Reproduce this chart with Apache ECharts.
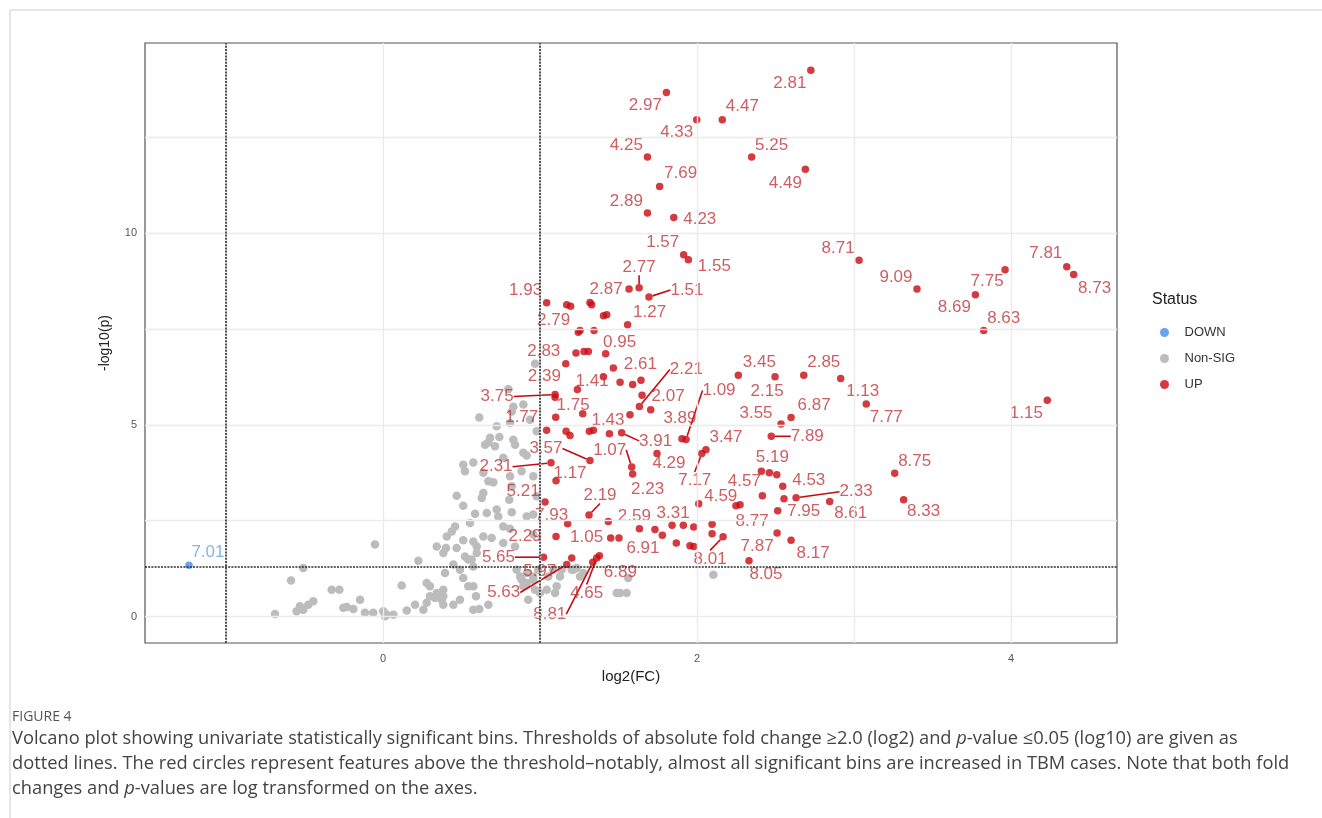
<!DOCTYPE html>
<html><head><meta charset="utf-8">
<script src="https://cdn.jsdelivr.net/npm/echarts@6/dist/echarts.min.js"></script>
<style>html,body{margin:0;padding:0;background:#fff}#c{width:1322px;height:818px}</style>
</head><body><div id="c"></div>
<script>
// ---------- data ----------
const xTicks = [0, 2, 4];
const yTicks = [0, 5, 10];
const xGridValues = [-1, 0, 1, 2, 3, 4];
const yGridValues = [0, 2.5, 5, 7.5, 10, 12.5];
const fcThresholds = [-1, 1];
const pThreshold = 1.301;

// UP (labeled)
const upLabels = ['2.81','2.97','4.47','4.33','4.25','5.25','7.69','4.49','2.89','4.23','1.57','1.55','2.77','2.87','1.51','1.27','8.71','9.09','7.75','8.69','8.63','7.81','8.73','1.15','3.45','2.15','2.85','1.13','7.77','6.87','3.55','7.89','0.95','2.61','2.21','2.07','3.89','1.09','3.91','3.47','7.17','4.29','1.07','2.23','5.19','4.57','4.53','2.33','7.95','8.61','8.75','8.33','4.59','8.77','7.87','8.17','8.05','8.01','3.31','2.59','6.91','1.05','6.89','4.65','8.81','5.97','5.63','5.65','2.29','7.93','2.19','5.21','1.17','2.31','3.57','1.93','2.79','2.83','2.39','1.41','3.75','1.75','1.77','1.43'];
const upX = [2.725,1.805,2.161,1.998,1.684,2.348,1.762,2.690,1.684,1.852,1.915,1.945,1.631,1.567,1.694,1.558,3.032,3.401,3.962,3.773,3.826,4.355,4.399,4.231,2.263,2.497,2.680,2.915,3.078,2.599,2.535,2.473,1.418,1.467,1.633,1.650,1.904,1.930,1.520,2.057,2.030,1.745,1.584,1.590,2.461,2.410,2.546,2.631,2.514,2.845,3.259,3.316,2.011,2.274,2.510,2.599,2.331,2.166,1.841,1.435,1.503,1.450,1.378,1.361,1.336,1.202,1.170,1.022,1.102,1.176,1.312,1.032,1.102,1.070,1.318,1.042,1.195,1.164,1.238,1.510,1.096,1.096,1.100,1.573];
const upY = [14.24,13.66,12.95,12.95,11.98,11.98,11.21,11.66,10.52,10.40,9.43,9.30,8.57,8.54,8.33,7.61,9.29,8.54,9.04,8.39,7.46,9.12,8.92,5.64,6.29,6.25,6.29,6.21,5.54,5.19,5.02,4.70,6.85,6.48,5.48,5.77,4.64,4.62,4.79,4.35,4.25,4.25,3.90,3.72,3.75,3.79,3.40,3.10,2.76,3.00,3.74,3.05,2.94,2.92,2.18,1.99,1.46,2.08,2.38,2.48,2.05,2.05,1.59,1.53,1.42,1.53,1.36,1.55,2.09,2.42,2.65,2.99,3.54,4.01,4.07,8.18,8.09,6.59,5.92,6.11,5.79,5.72,5.20,5.26];
// UP (unlabeled)
const upPlainX = [1.170,1.318,1.329,1.404,1.425,1.244,1.255,1.344,1.229,1.280,1.308,1.404,1.590,1.643,1.272,1.042,1.166,1.191,1.314,1.340,1.442,1.705,2.416,2.554,2.508,2.248,1.633,1.732,1.779,1.868,1.955,1.979,1.913,1.979,2.096,2.096];
const upPlainY = [8.13,8.19,8.13,7.84,7.87,7.41,7.46,7.46,6.87,6.91,6.91,6.25,6.05,6.16,5.29,4.86,4.83,4.72,4.83,4.86,4.77,5.39,3.15,3.07,3.70,2.89,2.29,2.27,2.12,1.92,1.85,1.83,2.38,2.34,2.41,2.16];
// DOWN
const downX = [-1.236];
const downY = [1.34];
const downLabels = ['7.01'];
// Non-SIG
const nsX = [0.968,0.798,0.894,0.830,0.613,0.724,0.809,0.979,0.936,0.682,0.741,0.650,0.713,0.671,0.830,0.841,0.766,0.894,0.915,0.511,0.575,0.522,0.639,0.671,0.703,0.809,0.883,0.957,0.820,0.804,0.469,0.629,0.639,0.979,0.511,0.586,0.661,0.724,0.734,0.820,0.915,0.957,0.438,0.459,0.766,0.809,0.554,0.639,0.692,0.575,0.511,0.342,0.401,0.469,0.766,0.841,0.957,-0.051,0.225,0.490,0.543,0.565,0.575,0.597,0.873,0.915,0.957,0.894,0.989,1.053,1.138,1.212,-0.508,-0.586,-0.327,-0.278,-0.146,-0.253,-0.231,-0.189,-0.444,-0.476,-0.529,-0.550,-0.508,-0.688,-0.115,-0.062,0.002,0.024,0.066,0.013,0.119,0.151,0.204,0.257,0.278,0.299,0.331,0.342,0.278,0.299,0.384,0.384,0.448,0.374,0.543,0.592,0.613,0.671,0.925,0.968,1.043,1.096,1.234,1.276,1.489,1.552,1.562,2.104,0.820,0.851,0.915,0.957,0.883,1.085,1.127,1.202,1.255,1.510,0.575,0.511,0.395,0.448,0.384,0.522,0.597,0.406,0.384,0.490,0.575,1.000,1.106];
const nsY = [6.59,5.93,5.53,5.47,5.19,4.96,5.05,4.83,5.13,4.66,4.68,4.48,4.44,4.54,4.61,4.48,4.14,4.27,4.20,3.96,4.02,3.79,3.75,3.53,3.50,3.66,3.79,3.66,3.40,3.05,3.15,3.09,3.22,3.14,2.89,2.68,2.70,2.79,2.61,2.72,2.61,2.66,2.22,2.35,2.35,2.29,2.44,2.09,2.05,1.96,1.99,1.83,1.79,1.79,1.92,1.83,2.14,1.88,1.46,1.22,1.49,1.49,1.31,1.66,1.05,0.88,0.96,0.79,1.22,1.05,1.22,1.22,1.27,0.94,0.70,0.70,0.44,0.23,0.25,0.20,0.40,0.31,0.27,0.14,0.18,0.07,0.10,0.10,0.14,0.05,0.05,0.01,0.81,0.16,0.31,0.18,0.36,0.53,0.49,0.62,0.88,0.79,0.70,0.31,0.31,0.44,0.79,0.53,0.20,0.31,0.44,0.70,0.70,0.62,1.27,1.14,0.62,0.62,1.01,1.09,5.35,1.22,1.14,1.05,0.96,1.22,1.05,1.22,1.05,0.62,0.79,1.01,1.14,1.36,1.66,1.57,1.83,2.09,0.53,0.44,0.18,0.62,0.79];

// ---------- layout (label nudges in px, leader flags) ----------
const upLabelNudge = [[-21,13],[-21,13],[20,-13],[-20,13],[-21,-12],[20,-12],[21,-13],[-20,14],[-21,-12],[26,2],[-21,-13],[26,7],[0,-21],[-23,0],[38,-7],[22,-12],[-21,-12],[-21,-12],[-18,12],[-21,13],[20,-12],[-21,-13],[21,14],[-21,13],[21,-13],[-8,14],[20,-13],[22,13],[20,13],[23,-12],[-25,-11],[36,0],[14,-12],[27,-4],[47,-37],[26,1],[-2,-20],[33,-49],[34,8],[20,-12],[-7,27],[12,10],[-22,-17],[15,15],[3,-15],[-17,10],[26,-6],[60,-6],[26,1],[21,12],[20,-12],[20,12],[22,-8],[12,17],[-20,13],[22,13],[17,14],[-13,22],[1,-12],[26,-5],[24,10],[-24,-1],[21,17],[-10,35],[-43,52],[-32,13],[-63,28],[-45,0],[-31,0],[-16,-9],[11,-20],[-22,-11],[14,-8],[-55,4],[-44,-12],[-21,-12],[-17,14],[-22,-12],[-33,-13],[-28,-1],[-58,2],[18,8],[-34,0],[-22,5]];
const upLeader = ['2.77','1.51','7.89','2.21','1.09','3.91','7.17','1.07','2.33','8.01','4.65','8.81','5.63','5.65','2.19','2.31','3.57','3.75'];
const downLabelNudge = [[19,-13]];

const RED = '#c80a10', RED_TXT = '#c0363b', GREY = '#bcbcbc', BLUE = '#3d8ee8';
const FONT = "'Liberation Sans', Arial, sans-serif";
const CAP_FONT = "'Open Sans', sans-serif";

const chart = echarts.init(document.getElementById('c'), null, {renderer: 'canvas'});

const upData = upX.map((x, i) => ({
  value: [x, upY[i]], name: upLabels[i],
  labelLine: {show: upLeader.indexOf(upLabels[i]) >= 0}
}));
const upPlainData = upPlainX.map((x, i) => [x, upPlainY[i]]);
const nsData = nsX.map((x, i) => [x, nsY[i]]);
const downData = downX.map((x, i) => ({value: [x, downY[i]], name: downLabels[i]}));

const italicRich = {i: {fontStyle: 'italic', fontSize: 18.3, fontFamily: CAP_FONT, fill: '#444'}};

const option = {
  animation: false,
  backgroundColor: '#fff',
  grid: {left: 145, right: 205, top: 43, bottom: 175, show: true, borderColor: '#555', borderWidth: 1.2, backgroundColor: '#fff'},
  xAxis: {
    type: 'value', min: -1.516, max: 4.675,
    name: 'log2(FC)', nameLocation: 'middle', nameGap: 26,
    nameTextStyle: {fontFamily: FONT, fontSize: 15, color: '#222'},
    axisLine: {show: false}, splitLine: {show: false},
    axisTick: {show: true, customValues: xTicks, length: 4, lineStyle: {color: '#444'}},
    axisLabel: {customValues: xTicks, fontFamily: FONT, fontSize: 11, color: '#555', margin: 10}
  },
  yAxis: {
    type: 'value', min: -0.686, max: 14.95,
    name: '-log10(p)', nameLocation: 'middle', nameGap: 33,
    nameTextStyle: {fontFamily: FONT, fontSize: 14, color: '#222'},
    axisLine: {show: false}, splitLine: {show: false},
    axisTick: {show: true, customValues: yTicks, length: 4, lineStyle: {color: '#444'}},
    axisLabel: {customValues: yTicks, fontFamily: FONT, fontSize: 11, color: '#555', margin: 8}
  },
  legend: {
    data: ['DOWN', 'Non-SIG', 'UP'], orient: 'vertical', left: 1155, top: 321,
    itemWidth: 30, itemHeight: 9, itemGap: 13, icon: 'circle',
    textStyle: {fontFamily: FONT, fontSize: 13, color: '#333'}
  },
  series: [
    {
      name: 'gridlines', type: 'scatter', data: [], silent: true, z: 0,
      markLine: {
        silent: true, symbol: 'none', animation: false,
        label: {show: false},
        lineStyle: {color: '#ebebeb', width: 1.4, type: 'solid'},
        data: xGridValues.map(v => ({xAxis: v})).concat(yGridValues.map(v => ({yAxis: v})))
      }
    },
    {
      name: 'thresholds', type: 'scatter', data: [], silent: true, z: 1,
      markLine: {
        silent: true, symbol: 'none', animation: false,
        label: {show: false},
        lineStyle: {color: '#2a2a2a', width: 1.6, type: [2, 1.2]},
        data: fcThresholds.map(v => ({xAxis: v})).concat([{yAxis: pThreshold}])
      }
    },
    {
      name: 'Non-SIG', type: 'scatter', data: nsData, symbolSize: 8.5, z: 2,
      itemStyle: {color: GREY, opacity: 1}
    },
    {
      name: 'DOWN', type: 'scatter', data: downData, symbolSize: 7.5, z: 3,
      itemStyle: {color: BLUE},
      label: {show: true, position: 'inside', formatter: p => p.name, color: '#6b9fd9', fontFamily: FONT, fontSize: 17},
      labelLayout: p => ({dx: downLabelNudge[p.dataIndex][0], dy: downLabelNudge[p.dataIndex][1]})
    },
    {
      name: 'UP', type: 'scatter', data: upPlainData, symbolSize: 7.5, z: 3,
      itemStyle: {color: RED}
    },
    {
      name: 'UP', type: 'scatter', data: upData, symbolSize: 7.5, z: 4,
      itemStyle: {color: RED},
      label: {show: true, position: 'inside', formatter: p => p.name, color: RED_TXT, fontFamily: FONT, fontSize: 17},
      labelLine: {show: false, length2: 0, lineStyle: {color: RED, width: 1.6}},
      labelLayout: p => ({dx: upLabelNudge[p.dataIndex][0], dy: upLabelNudge[p.dataIndex][1]})
    }
  ],
  graphic: [
    {type: 'line', silent: true, shape: {x1: 10, y1: 10, x2: 1322, y2: 10}, style: {stroke: '#cfcfcf', lineWidth: 1}},
    {type: 'line', silent: true, shape: {x1: 10, y1: 10, x2: 10, y2: 818}, style: {stroke: '#cfcfcf', lineWidth: 1}},
    {type: 'text', x: 1152, y: 300, style: {text: 'Status', font: "16px 'Liberation Sans', Arial, sans-serif", fill: '#222', verticalAlign: 'middle'}},
    {type: 'text', x: 12, y: 717, style: {text: 'FIGURE 4', font: "14px 'Open Sans', sans-serif", fill: '#555', verticalAlign: 'middle'}},
    {type: 'text', x: 12, y: 739, style: {
      text: 'Volcano plot showing univariate statistically significant bins. Thresholds of absolute fold change ≥2.0 (log2) and {i|p}-value ≤0.05 (log10) are given as',
      font: "18.3px 'Open Sans', sans-serif", fill: '#444', verticalAlign: 'middle', rich: italicRich}},
    {type: 'text', x: 12, y: 764, style: {
      text: 'dotted lines. The red circles represent features above the threshold–notably, almost all significant bins are increased in TBM cases. Note that both fold',
      font: "18.3px 'Open Sans', sans-serif", fill: '#444', verticalAlign: 'middle'}},
    {type: 'text', x: 12, y: 789, style: {
      text: 'changes and {i|p}-values are log transformed on the axes.',
      font: "18.3px 'Open Sans', sans-serif", fill: '#444', verticalAlign: 'middle', rich: italicRich}}
  ]
};
chart.setOption(option);
</script>
</body></html>
